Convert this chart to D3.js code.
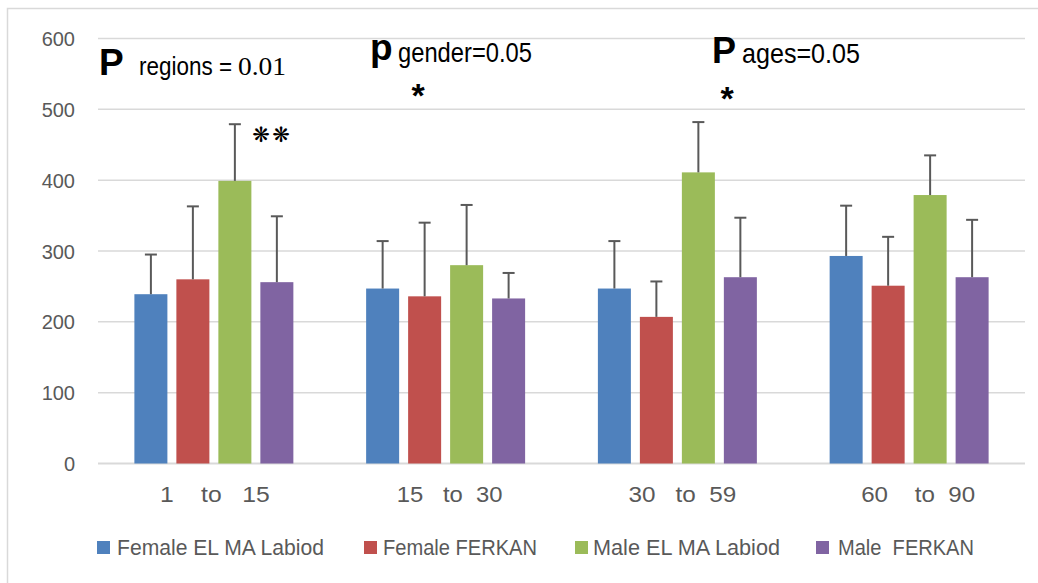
<!DOCTYPE html>
<html>
<head>
<meta charset="utf-8">
<script src="https://cdn.jsdelivr.net/npm/d3@7"></script>
<style>
  html, body { margin: 0; padding: 0; background: #fff; }
  svg { display: block; font-family: "Liberation Sans", Arial, sans-serif; }
</style>
</head>
<body>
<svg id="chart" width="1038" height="583"></svg>
<script>
// ---- data ----
const categories = ["1    to   15", "15   to  30", "30   to  59", "60    to  90"];
const seriesNames = ["Female EL MA Labiod", "Female FERKAN", "Male EL MA Labiod", "Male  FERKAN"];
const femaleElMaLabiod = [239, 247, 247, 293];
const femaleFerkan     = [260, 236, 207, 251];
const maleElMaLabiod   = [399, 280, 411, 379];
const maleFerkan       = [256, 233, 263, 263];
const femaleElMaLabiodErr = [56, 67, 67, 71];
const femaleFerkanErr     = [103, 104, 50, 69];
const maleElMaLabiodErr   = [80, 85, 71, 56];
const maleFerkanErr       = [93, 36, 84, 81];
const yTicks = [0, 100, 200, 300, 400, 500, 600];
const colors = ["#4f81bd", "#c0504d", "#9bbb59", "#8064a2"];

const seriesValues = [femaleElMaLabiod, femaleFerkan, maleElMaLabiod, maleFerkan];
const seriesErrors = [femaleElMaLabiodErr, femaleFerkanErr, maleElMaLabiodErr, maleFerkanErr];

// ---- layout ----
const svg = d3.select("#chart");
const plotLeft = 98, plotRight = 1025, plotTop = 38.5, plotBottom = 463.5;
const SANS = "'Liberation Sans', Arial, sans-serif";

// chart border
svg.append("rect").attr("x", 7.5).attr("y", 8.5).attr("width", 1200).attr("height", 800)
  .attr("fill", "none").attr("stroke", "#d9d9d9").attr("stroke-width", 1.5);

const x0 = d3.scaleBand().domain(d3.range(categories.length)).range([plotLeft, plotRight])
  .paddingInner(0.314).paddingOuter(0.157);
const x1 = d3.scaleBand().domain(d3.range(seriesNames.length)).range([0, x0.bandwidth()])
  .paddingInner(0.214).paddingOuter(0);
const y = d3.scaleLinear().domain([0, 600]).range([plotBottom, plotTop]);

// gridlines
svg.append("g").selectAll("line").data(yTicks).join("line")
  .attr("x1", plotLeft).attr("x2", plotRight)
  .attr("y1", d => y(d)).attr("y2", d => y(d))
  .attr("stroke", "#d9d9d9").attr("stroke-width", d => d === 0 ? 2 : 1.5);

// y axis labels
const yAxis = d3.axisLeft(y).tickValues(yTicks).tickSize(0).tickPadding(0);
const yg = svg.append("g").attr("transform", "translate(75,0)").call(yAxis);
yg.select(".domain").remove();
yg.attr("font-family", null).attr("font-size", null);
yg.selectAll("text").style("font-size", "20px").attr("fill", "#595959")
  .style("font-family", SANS).attr("dy", "0.35em").attr("x", 0);

// bars
const groups = svg.append("g").selectAll("g").data(categories).join("g")
  .attr("transform", (d, i) => `translate(${x0(i)},0)`);

groups.each(function(cat, ci) {
  const g = d3.select(this);
  seriesValues.forEach((vals, si) => {
    const bx = x1(si), bw = x1.bandwidth();
    g.append("rect")
      .attr("x", bx).attr("width", bw)
      .attr("y", y(vals[ci])).attr("height", y(0) - y(vals[ci]))
      .attr("fill", colors[si]);
    const cx = bx + bw / 2;
    const topV = vals[ci] + seriesErrors[si][ci];
    g.append("line").attr("x1", cx).attr("x2", cx)
      .attr("y1", y(vals[ci])).attr("y2", y(topV))
      .attr("stroke", "#595959").attr("stroke-width", 2);
    g.append("line").attr("x1", cx - 6).attr("x2", cx + 6)
      .attr("y1", y(topV)).attr("y2", y(topV))
      .attr("stroke", "#595959").attr("stroke-width", 2);
  });
});

// x labels
const labelWidths = [110, 106, 108, 114];
const labelDx = [1, 4, 5, 9];
svg.append("g").selectAll("text").data(categories).join("text")
  .attr("x", (d, i) => x0(i) + x0.bandwidth() / 2 + labelDx[i])
  .attr("y", 502)
  .attr("text-anchor", "middle")
  .style("font-size", "22px").attr("fill", "#595959")
  .style("white-space", "pre")
  .attr("textLength", (d, i) => labelWidths[i]).attr("lengthAdjust", "spacingAndGlyphs")
  .text(d => d);

// legend
const legendSquareX = [97, 364, 575, 816];
const legendTextX = [117, 383, 593, 838];
const legendTextW = [207, 154, 187, 136];
const lg = svg.append("g").selectAll("g").data(seriesNames).join("g");
lg.append("rect").attr("x", (d, i) => legendSquareX[i]).attr("y", 541)
  .attr("width", 13).attr("height", 13).attr("fill", (d, i) => colors[i]);
lg.append("text").attr("x", (d, i) => legendTextX[i]).attr("y", 555)
  .style("font-size", "22px").attr("fill", "#595959")
  .style("white-space", "pre")
  .attr("textLength", (d, i) => legendTextW[i]).attr("lengthAdjust", "spacingAndGlyphs")
  .text(d => d);

// annotations
const ann = svg.append("g").attr("fill", "#000");
ann.append("text").attr("x", 99).attr("y", 74.5).style("font-size", "37px").attr("font-weight", "bold").text("P");
ann.append("text").attr("x", 139).attr("y", 75).style("font-size", "25px")
  .style("white-space", "pre").attr("textLength", 93).attr("lengthAdjust", "spacingAndGlyphs").text("regions =");
ann.append("text").attr("x", 238).attr("y", 75).style("font-size", "26px")
  .style("font-family", "'Liberation Serif', 'Times New Roman', serif")
  .attr("textLength", 48).attr("lengthAdjust", "spacingAndGlyphs").text("0.01");

ann.append("text").attr("x", 370).attr("y", 59.5).style("font-size", "37px").attr("font-weight", "bold").text("p");
ann.append("text").attr("x", 398).attr("y", 61.5).style("font-size", "28px")
  .attr("textLength", 134).attr("lengthAdjust", "spacingAndGlyphs").text("gender=0.05");
ann.append("text").attr("x", 418).attr("y", 107).style("font-size", "34px").attr("font-weight", "bold")
  .attr("text-anchor", "middle").text("*");

ann.append("text").attr("x", 712).attr("y", 63.3).style("font-size", "36px").attr("font-weight", "bold").text("P");
ann.append("text").attr("x", 742).attr("y", 63.3).style("font-size", "28px")
  .attr("textLength", 118).attr("lengthAdjust", "spacingAndGlyphs").text("ages=0.05");
ann.append("text").attr("x", 727).attr("y", 109.5).style("font-size", "34px").attr("font-weight", "bold")
  .attr("text-anchor", "middle").text("*");

[261, 281].forEach(xp => {
  ann.append("text").attr("x", xp).attr("y", 134.5).style("font-size", "21px")
    .attr("font-weight", "bold")
    .style("font-family", "'DejaVu Sans', sans-serif").attr("text-anchor", "middle")
    .attr("dominant-baseline", "central").text("❋");
});
</script>
</body>
</html>
